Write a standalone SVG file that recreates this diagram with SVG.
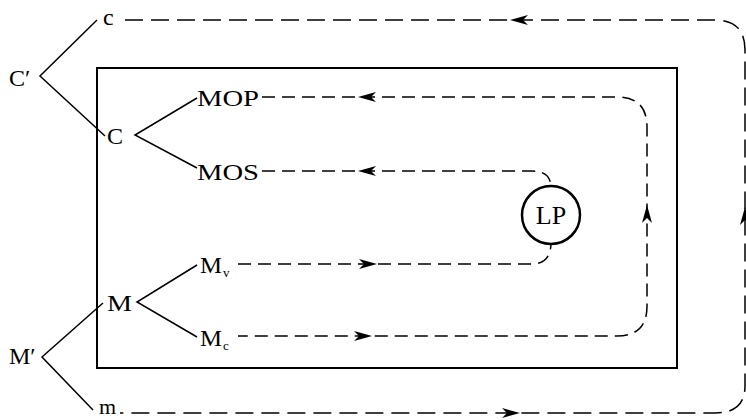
<svg xmlns="http://www.w3.org/2000/svg" width="746" height="420" viewBox="0 0 746 420">
<defs>
<style>
text{font-family:"Liberation Serif","Times New Roman",serif;font-size:24px;fill:#000}
.sub{font-size:13px}
.solid{fill:none;stroke:#000;stroke-width:1.5}
.dash{fill:none;stroke:#000;stroke-width:1.5;stroke-dasharray:13 7}
.dashO{fill:none;stroke:#000;stroke-width:1.5;stroke-dasharray:18 8}
.arrow{fill:#000;stroke:none}
</style>
<path id="ah" d="M0,0 L-18,-5 L-13,0 L-18,5 Z"/>
</defs>
<rect width="746" height="420" fill="#fff"/>
<g id="box"><rect x="97" y="68" width="580" height="300" fill="none" stroke="#000" stroke-width="2"/></g>
<g id="node-Cprime"><text x="9" y="86">C′</text></g>
<g id="node-c"><text x="103" y="25">c</text></g>
<g id="node-C"><text x="107" y="144">C</text></g>
<g id="node-MOP"><text x="197" y="106" textLength="62" lengthAdjust="spacingAndGlyphs">MOP</text></g>
<g id="node-MOS"><text x="197" y="180" textLength="62" lengthAdjust="spacingAndGlyphs">MOS</text></g>
<g id="node-Mprime"><text x="9" y="364">M′</text></g>
<g id="node-M"><text x="107" y="311" textLength="25" lengthAdjust="spacingAndGlyphs">M</text></g>
<g id="node-Mv"><text x="200" y="273" textLength="22" lengthAdjust="spacingAndGlyphs">M</text><text class="sub" x="223" y="277">v</text></g>
<g id="node-Mc"><text x="200" y="346" textLength="22" lengthAdjust="spacingAndGlyphs">M</text><text class="sub" x="223" y="350">c</text></g>
<g id="node-m"><text x="99" y="414" style="font-size:22px">m</text></g>
<g id="node-LP"><circle cx="551" cy="215" r="29" fill="none" stroke="#000" stroke-width="2.5"/><text x="551" y="224" text-anchor="middle" style="font-size:26px">LP</text></g>
<g id="connectors">
<path class="solid" d="M97,20 L40,76 L105,136"/>
<path class="solid" d="M197,98 L135,135 L197,168"/>
<path class="solid" d="M103,303 L42,357 L93,410"/>
<path class="solid" d="M197,265 L137,302 L197,337"/>
<path class="dashO" d="M125,20 H715 Q745,20 745,50 V386 Q745,413 715,413 H120"/>
<path class="dash" d="M262,97 H617 Q647,97 647,127 V306 Q647,336 617,336 H238"/>
<path class="dash" d="M262,171 H532 Q550,171 551,186"/>
<path class="dash" d="M238,264 H532 Q550,264 551,244"/>
<use href="#ah" class="arrow" transform="translate(358,97) rotate(180)"/>
<use href="#ah" class="arrow" transform="translate(358,171) rotate(180)"/>
<use href="#ah" class="arrow" transform="translate(377,264)"/>
<use href="#ah" class="arrow" transform="translate(372,336)"/>
<use href="#ah" class="arrow" transform="translate(647,205) rotate(-90)"/>
<use href="#ah" class="arrow" transform="translate(745,207) rotate(-90)"/>
<use href="#ah" class="arrow" transform="translate(510,20) rotate(180)"/>
<use href="#ah" class="arrow" transform="translate(520,413)"/>
</g>
</svg>
